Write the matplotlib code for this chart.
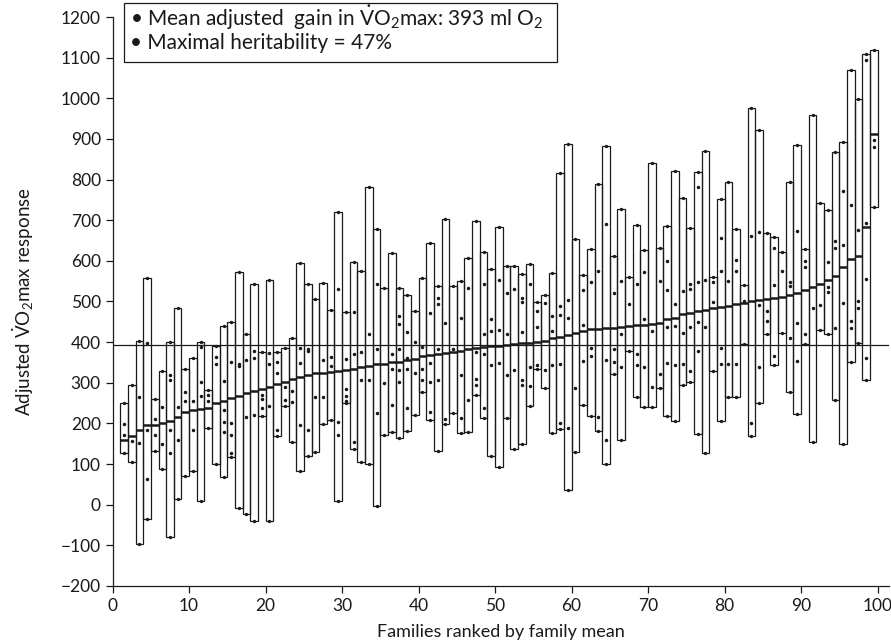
import matplotlib
matplotlib.use("Agg")
import numpy as np
from matplotlib import pyplot as plt
from matplotlib.patches import Rectangle

# family data, ranked by family mean (ml O2)
fam_min = [126, 106, -97, -36, 131, 87, -79, 14, 70, 82,
           10, 188, 100, 67, 117, -8, -24, -39, 218, -39,
           169, 242, 155, 83, 119, 130, 198, 208, 8, 249,
           136, 105, 100, -2, 172, 179, 165, 182, 221, 278,
           208, 132, 198, 226, 176, 180, 269, 214, 121, 92,
           214, 136, 150, 242, 333, 287, 177, 187, 35, 130,
           246, 219, 182, 101, 322, 159, 379, 266, 240, 240,
           287, 219, 207, 294, 303, 175, 127, 329, 207, 265,
           265, 396, 170, 249, 421, 343, 422, 278, 223, 396,
           154, 430, 419, 258, 150, 352, 398, 306, 732]
fam_max = [251, 294, 403, 557, 260, 330, 400, 483, 334, 360,
           401, 282, 390, 440, 450, 572, 419, 542, 375, 554,
           375, 385, 409, 594, 542, 506, 545, 478, 719, 475,
           598, 575, 781, 678, 532, 619, 534, 516, 476, 558,
           645, 537, 703, 537, 551, 606, 699, 622, 579, 684,
           587, 587, 567, 592, 499, 517, 570, 817, 887, 654,
           565, 630, 789, 882, 613, 728, 561, 689, 627, 841,
           632, 685, 821, 754, 682, 818, 870, 560, 751, 794,
           679, 540, 977, 921, 668, 659, 622, 794, 884, 630,
           960, 742, 726, 867, 893, 1069, 998, 1109, 1120]
fam_mean = [159, 169, 185, 195, 197, 201, 206, 217, 229, 232,
            236, 239, 250, 256, 262, 268, 274, 280, 285, 290,
            296, 303, 310, 315, 320, 323, 325, 327, 329, 331,
            334, 339, 341, 345, 347, 350, 352, 356, 358, 366,
            369, 371, 373, 375, 379, 382, 386, 388, 390, 391,
            394, 396, 397, 398, 400, 404, 409, 413, 418, 422,
            428, 432, 433, 434, 435, 437, 439, 442, 443, 444,
            448, 457, 460, 468, 471, 476, 480, 485, 487, 489,
            493, 496, 500, 503, 505, 508, 511, 516, 522, 528,
            535, 542, 552, 563, 585, 605, 613, 684, 911]
# other family members (between min and max)
fam_dots = [[198, 172], [157], [265, 152], [397, 183, 62], [211, 172],
            [240, 150], [319, 306, 183, 126], [241, 159], [277, 255], [255, 183],
            [387, 301, 267], [270, 254], [364, 346], [304, 232, 203, 179], [351, 200, 171, 127],
            [346, 341], [357, 216], [377, 362, 221], [270, 260, 237], [374, 346, 242],
            [351, 325, 185], [289, 258], [280, 252], [385, 349, 195], [383, 377, 185],
            [264], [357, 265], [364, 342], [530, 203, 172], [359, 285, 268, 254],
            [475, 372, 155], [375, 306], [419, 306], [544, 383, 226], [299],
            [370, 333, 246], [465, 444, 383, 331, 303], [424, 362, 333, 239], [400, 324], [388, 333, 306],
            [471, 349, 303, 228], [508, 494, 384, 306], [446, 211], [382], [459, 318, 214],
            [533, 258], [375, 309, 294], [542, 421, 370, 239], [457, 427, 344], [552, 430, 349],
            [520, 421, 318], [531, 331], [508, 499, 425, 306, 294], [542, 338, 292], [476, 436, 343],
            [496, 331], [465, 428, 344], [488, 466, 345, 202], [503, 460, 188], [288],
            [528, 441, 354], [549, 386, 365], [576, 216], [691, 356, 159], [521, 384, 352],
            [551, 421, 338], [494], [542, 370, 343], [572, 457, 340], [428, 290],
            [551, 321], [599, 529, 437, 349], [494, 439, 343], [526, 422, 345], [542, 531, 437, 329],
            [781, 549, 450, 379], [553, 437], [549, 498], [657, 576, 386, 345], [551, 345],
            [601, 576, 345], [500], [662, 200], [670, 491, 340], [477, 451],
            [632, 540, 365], [575], [549, 537, 409], [673, 448, 354], [599, 586, 419],
            [485], [492], [598, 535, 524], [650, 632, 434], [771, 639, 496],
            [737, 453, 434], [677, 501, 483], [1095, 693, 555, 361], [898, 879]]
overall_mean = 393

plt.rcParams['font.family'] = ['Lato', 'DejaVu Sans']
plt.rcParams['mathtext.fontset'] = 'custom'
plt.rcParams['mathtext.rm'] = 'Lato'
plt.rcParams['mathtext.it'] = 'Lato:italic'
plt.rcParams['mathtext.bf'] = 'Lato:bold'

ink = '#1a1a1a'
fig = plt.figure(figsize=(8.91, 6.44), dpi=100)
ax = fig.add_axes([0.1264, 0.0901, 0.8714, 0.8835])

pos = np.arange(1, len(fam_mean) + 1)
lo = np.array(fam_min)
hi = np.array(fam_max)

ax.axhline(overall_mean, color=ink, lw=0.9, zorder=1)
ax.bar(pos, hi - lo, bottom=lo, width=1.0, align='edge', fill=False,
       edgecolor=ink, linewidth=0.9, zorder=2)
ax.hlines(fam_mean, pos, pos + 1, colors=ink, linewidth=1.8, zorder=3)

# extremes sit on the box ends, other members inside
ax.plot(pos + 0.5, lo, 'o', color=ink, ms=1.4, zorder=4)
ax.plot(pos + 0.5, hi, 'o', color=ink, ms=1.4, zorder=4)
dx = np.concatenate([[p + 0.5] * len(d) for p, d in zip(pos, fam_dots)])
dy = np.concatenate([d for d in fam_dots])
ax.plot(dx, dy, 'o', color=ink, ms=1.5, zorder=4)

ax.set_xlim(0, 101.5)
ax.set_ylim(-200, 1200)
ax.set_xticks(range(0, 101, 10))
ax.set_yticks(range(-200, 1201, 100))
ax.set_yticklabels([str(v).replace('-', '\u2212') for v in range(-200, 1201, 100)])
for s in ['top', 'right']:
    ax.spines[s].set_visible(False)
for s in ['left', 'bottom']:
    ax.spines[s].set_color(ink)
    ax.spines[s].set_linewidth(0.9)
ax.tick_params(colors=ink, labelsize=12.5, length=5, width=0.9, direction='out')
ax.set_xlabel('Families ranked by family mean', fontsize=13, color=ink, labelpad=7)
ax.set_ylabel(r'Adjusted $\dot{\mathrm{V}}\mathrm{O}_2$max response', fontsize=13.5,
              color=ink, labelpad=18)

# legend box
fig.patches.append(Rectangle((0.139, 0.9037), 0.486, 0.0916, transform=fig.transFigure,
                             fill=False, edgecolor=ink, linewidth=0.9))
fig.text(0.146, 0.972, '\u2022 Mean adjusted  gain in $\\dot{\\mathrm{V}}\\mathrm{O}_2$max: 393 ml O$_2$',
         fontsize=15, color=ink, va='center')
fig.text(0.146, 0.933, '\u2022 Maximal heritability = 47%', fontsize=15, color=ink, va='center')

fig.savefig('out.png', dpi=100)
